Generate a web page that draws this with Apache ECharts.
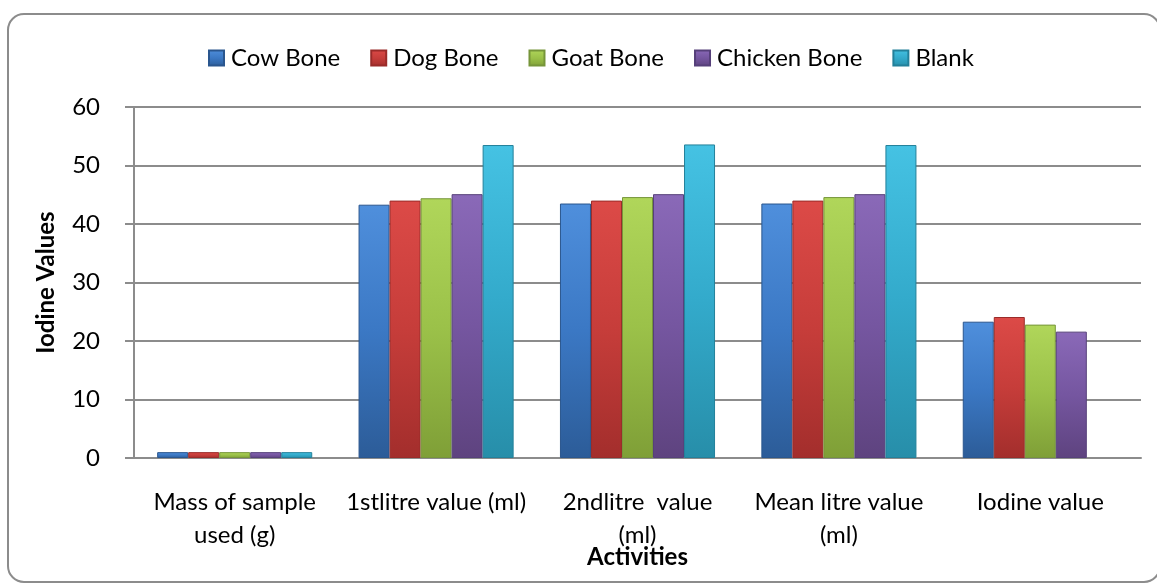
<!DOCTYPE html>
<html>
<head>
<meta charset="utf-8">
<script src="https://cdn.jsdelivr.net/npm/echarts@6/dist/echarts.min.js"></script>
<style>
html,body{margin:0;padding:0;background:#fff;}
#c{width:1157px;height:583px;}
</style>
</head>
<body>
<div id="c"></div>
<script>
const categories = ['Mass of sample\nused (g)', '1stlitre value (ml)', '2ndlitre  value\n(ml)', 'Mean litre value\n(ml)', 'Iodine value'];
const seriesNames = ['Cow Bone', 'Dog Bone', 'Goat Bone', 'Chicken Bone', 'Blank'];
const cowBone = [1, 43.3, 43.5, 43.5, 23.3];
const dogBone = [1, 44.0, 44.0, 44.0, 24.1];
const goatBone = [1, 44.4, 44.6, 44.6, 22.8];
const chickenBone = [1, 45.1, 45.1, 45.1, 21.6];
const blank = [1, 53.5, 53.6, 53.5, null];
const yTicks = {min: 0, max: 60, interval: 10};

const palette = [
  ['#4f8fdc', '#3b78c4', '#2c5c98', '#2a568e'],
  ['#dc4a47', '#c63d3a', '#a32e2c', '#9a2b29'],
  ['#b0d65a', '#9bc149', '#7f9f37', '#76953a'],
  ['#8a69b8', '#7556a0', '#5e437f', '#56407a'],
  ['#45c2e3', '#33aacb', '#278ea9', '#23809a']
];
function grad(p){
  return new echarts.graphic.LinearGradient(0,0,0,1,[
    {offset:0,color:p[0]},{offset:0.5,color:p[1]},{offset:1,color:p[2]}
  ]);
}
const dataSets = [cowBone, dogBone, goatBone, chickenBone, blank];
const FONT = 'Lato';

const chart = echarts.init(document.getElementById('c'), null, {renderer:'canvas'});
chart.setOption({
  animation:false,
  backgroundColor:'#fff',
  graphic:[{
    type:'rect', shape:{x:8,y:14,width:1152,height:568,r:16},
    style:{fill:'none',stroke:'#8c8c8c',lineWidth:2}, silent:true, z:-1
  }],
  legend:{
    left:203, top:41, itemWidth:15, itemHeight:15, itemGap:30,
    icon:'rect',
    textStyle:{fontFamily:FONT,fontSize:24,color:'#000',padding:[0,0,0,2]},
    data:seriesNames
  },
  grid:{left:134,right:16,top:107,bottom:125,containLabel:false,outerBoundsMode:'none'},
  xAxis:{
    type:'category', data:categories,
    name:'Activities', nameLocation:'middle', nameGap:87, nameMoveOverlap:false,
    nameTextStyle:{fontFamily:FONT,fontSize:24,fontWeight:'bold',color:'#000'},
    axisLine:{lineStyle:{color:'#8c8c8c',width:2}},
    axisTick:{length:7,lineStyle:{color:'#8c8c8c',width:2}},
    axisLabel:{fontFamily:FONT,fontSize:24,color:'#000',lineHeight:33,margin:28,interval:0}
  },
  yAxis:{
    type:'value', min:yTicks.min, max:yTicks.max, interval:yTicks.interval,
    name:'Iodine Values', nameLocation:'middle', nameGap:76, nameRotate:90, nameMoveOverlap:false,
    nameTextStyle:{fontFamily:FONT,fontSize:24,fontWeight:'bold',color:'#000'},
    axisLine:{show:true,lineStyle:{color:'#8c8c8c',width:2}},
    axisTick:{show:true,length:9,lineStyle:{color:'#8c8c8c',width:2}},
    axisLabel:{fontFamily:FONT,fontSize:24,color:'#000',margin:34},
    splitLine:{lineStyle:{color:'#8c8c8c',width:2}}
  },
  series: seriesNames.map((n,i)=>({
    name:n, type:'bar', data:dataSets[i].map(v=> v==null ? '-' : v),
    barGap:'0%', barCategoryGap:'23%',
    itemStyle:{color:grad(palette[i]), borderColor:palette[i][3], borderWidth:1}
  }))
});
</script>
</body>
</html>
